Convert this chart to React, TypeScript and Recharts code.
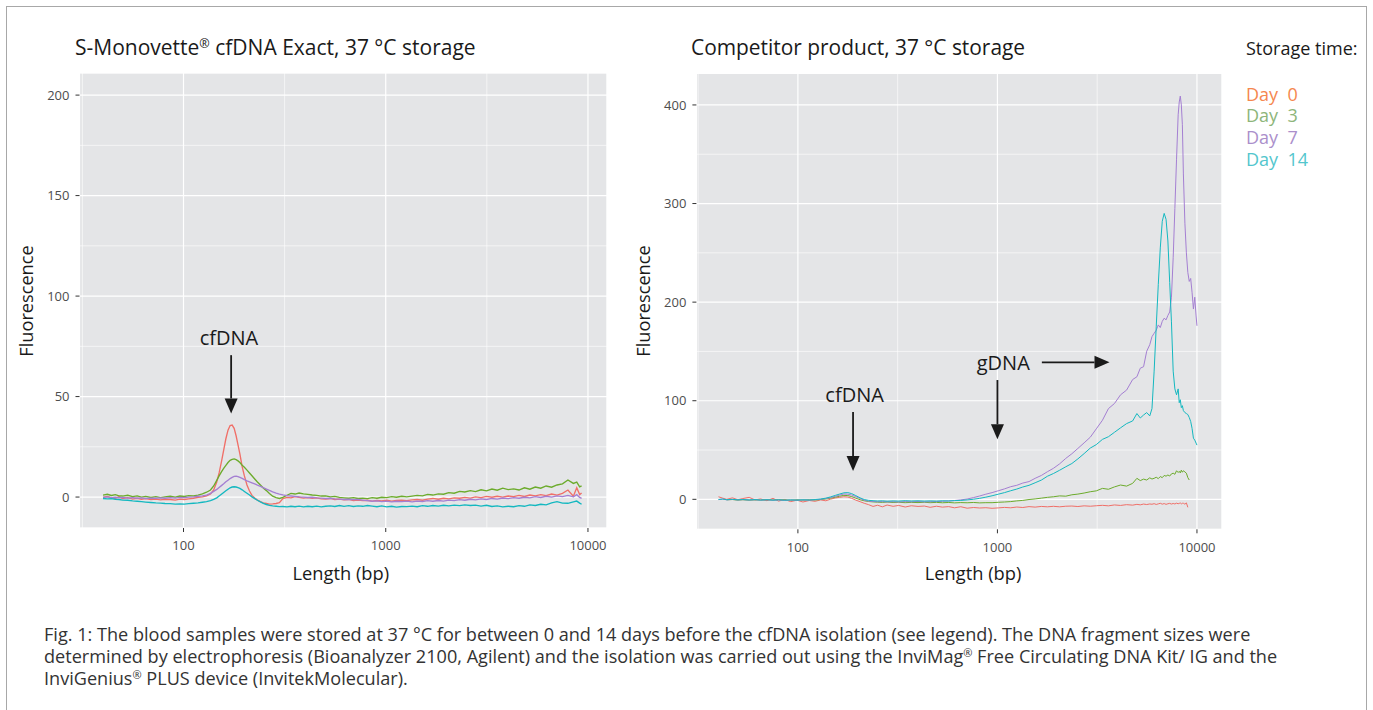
import React from "react";
import { LineChart, Line, XAxis, YAxis, CartesianGrid, ReferenceLine } from "recharts";

// ---- left panel: S-Monovette, fragment length (bp) and fluorescence per storage day
const leftBp = [
  40, 42, 44, 46, 48, 50, 53, 56, 59, 62,
  65, 69, 73, 77, 81, 86, 91, 96, 101, 106,
  112, 118, 124, 130, 136, 141, 146, 150, 154, 158,
  162, 166, 170, 174, 178, 182, 186, 190, 195, 200,
  206, 212, 218, 225, 232, 240, 248, 257, 266, 276,
  287, 298, 310, 325, 340, 356, 373, 392, 412, 433,
  456, 480, 505, 532, 560, 590, 622, 656, 692, 730,
  770, 812, 857, 905, 955, 1010, 1070, 1130, 1200, 1270,
  1350, 1430, 1520, 1610, 1710, 1820, 1930, 2050, 2180, 2320,
  2460, 2620, 2780, 2960, 3150, 3350, 3560, 3790, 4030, 4290,
  4560, 4850, 5160, 5490, 5840, 6210, 6610, 7030, 7480, 7960,
  8470, 8800, 9100, 9300,
];
const leftDay0 = [
  -0.2, 0.3, -0.4, -0.6, 0.1, -0.7, -0.3, -1.0, -0.6, -1.1,
  -0.8, -1.3, -1.0, -1.4, -1.1, -1.2, -1.5, -1.0, -1.2, -0.9,
  -0.6, -0.2, 0.1, 0.6, 1.5, 3.5, 7.5, 12.0, 17.5, 23.4,
  29.0, 33.3, 35.6, 35.8, 34.2, 30.5, 26.0, 21.5, 15.1, 10.5,
  6.0, 3.0, 0.8, -0.5, -1.5, -2.3, -2.9, -3.2, -3.5, -3.4,
  -3.2, -2.8, -0.8, -0.2, -0.4, 0.2, -0.1, -0.5, -0.3, -0.6,
  -0.4, -0.9, -1.0, -0.7, -1.2, -1.0, -1.4, -1.2, -1.7, -1.5,
  -1.8, -1.6, -2.0, -1.7, -1.9, -1.6, -2.0, -1.7, -1.5, -1.8,
  -1.4, -1.2, -1.6, -1.0, -0.7, -1.1, -0.6, -0.9, -0.4, -0.6,
  -0.2, -0.5, 0.1, -0.3, 0.3, -0.1, 0.4, 0.0, 0.5, 0.2,
  0.8, 0.3, 1.0, 0.6, 1.2, 0.7, 1.5, 1.0, 1.8, 3.5,
  0.4, 4.6, 1.2, 2.0,
];
const leftDay3 = [
  1.0, 1.4, 0.8, 1.2, 0.6, 0.5, 0.9, 0.2, 0.6, 0.0,
  0.3, -0.2, 0.2, -0.3, 0.1, 0.4, 0.0, 0.5, 0.3, 0.7,
  0.6, 1.0, 1.6, 2.4, 3.5, 5.5, 8.3, 10.5, 12.5, 14.3,
  15.8, 17.2, 18.3, 18.7, 19.0, 18.6, 18.0, 17.2, 15.8, 14.8,
  13.4, 12.0, 10.6, 9.0, 7.5, 6.0, 4.5, 3.2, 1.8, 0.4,
  -0.3, -0.7, -0.2, 0.9, 1.8, 1.5, 2.0, 1.6, 1.3, 1.0,
  0.8, 0.5, 0.6, 0.1, 0.3, -0.2, -0.4, -0.6, -0.3, -0.7,
  -0.5, -0.8, -0.3, -0.6, -0.1, -0.3, 0.2, -0.1, 0.4, 0.1,
  0.5, 0.8, 0.6, 1.3, 1.0, 1.6, 1.4, 2.2, 1.9, 2.8,
  2.5, 3.2, 2.7, 3.6, 3.1, 4.0, 3.4, 4.4, 3.7, 4.1,
  3.5, 4.6, 3.9, 5.0, 4.4, 5.5, 4.9, 6.0, 6.6, 8.5,
  6.8, 7.4, 5.1, 5.6,
];
const leftDay7 = [
  -0.2, 0.1, -0.3, -0.1, -0.4, -0.2, -0.5, -0.3, -0.6, -0.4,
  -0.7, -0.5, -0.6, -0.4, -0.6, -0.3, -0.5, -0.2, -0.3, 0.0,
  0.1, 0.4, 0.6, 1.0, 1.8, 2.8, 3.8, 4.8, 5.7, 6.6,
  7.6, 8.4, 9.2, 9.8, 10.3, 10.4, 10.2, 9.8, 9.3, 8.7,
  8.1, 7.6, 7.1, 6.5, 5.9, 5.3, 4.7, 4.0, 3.3, 2.6,
  2.0, 1.5, 1.1, 0.7, 0.5, 0.3, 0.1, 0.0, -0.2, -0.1,
  -0.4, -0.5, -0.7, -0.6, -0.9, -1.0, -1.2, -1.1, -1.3, -1.2,
  -1.5, -1.8, -2.1, -1.9, -2.3, -2.0, -2.4, -2.1, -2.3, -2.0,
  -2.4, -2.0, -2.2, -1.8, -2.1, -1.7, -2.0, -1.5, -1.8, -1.3,
  -1.6, -1.1, -1.4, -0.9, -1.2, -0.7, -1.0, -0.5, -0.8, -0.3,
  -0.6, -0.1, -0.4, 0.2, -0.2, 0.4, 0.0, 0.6, 0.2, 0.8,
  0.1, 1.2, -0.2, -0.7,
];
const leftDay14 = [
  -0.7, -0.9, -0.8, -1.1, -1.2, -1.5, -1.6, -1.9, -2.1, -2.3,
  -2.5, -2.7, -2.9, -3.0, -3.2, -3.3, -3.5, -3.4, -3.5, -3.3,
  -3.1, -2.9, -2.6, -2.3, -1.8, -1.2, -0.4, 0.5, 1.4, 2.3,
  3.1, 3.9, 4.6, 5.0, 5.1, 5.0, 4.7, 4.3, 3.6, 2.8,
  1.9, 1.0, 0.1, -0.8, -1.6, -2.4, -3.1, -3.7, -4.1, -4.4,
  -4.6, -4.8, -4.7, -4.9, -4.6, -4.8, -4.5, -4.9, -4.6, -4.8,
  -4.5, -4.9, -4.6, -4.4, -4.7, -4.2, -4.6, -4.3, -4.7, -4.4,
  -4.6, -4.2, -4.5, -4.8, -4.4, -4.9, -4.6, -5.0, -4.7, -4.8,
  -4.5, -4.8, -4.3, -4.6, -4.2, -4.5, -4.1, -4.4, -4.0, -4.3,
  -3.9, -4.2, -4.0, -4.5, -4.1, -4.7, -4.4, -4.9, -4.6, -4.8,
  -4.3, -4.6, -3.9, -4.2, -3.6, -3.9, -2.9, -2.3, -3.0, -3.1,
  -2.4, -2.0, -3.0, -3.6,
];

// ---- right panel: competitor product
const rightBp = [
  40, 42, 44, 47, 50, 53, 57, 61, 65, 70,
  75, 80, 86, 92, 99, 106, 114, 122, 130, 138,
  146, 154, 162, 170, 178, 186, 195, 205, 215, 226,
  238, 251, 265, 280, 300, 320, 345, 370, 400, 430,
  460, 495, 530, 570, 610, 655, 705, 760, 815, 875,
  940, 1010, 1085, 1165, 1250, 1340, 1440, 1545, 1660, 1780,
  1910, 2050, 2200, 2360, 2530, 2720, 2920, 3130, 3360, 3600,
  3860, 4140, 4440, 4760, 5000, 5200, 5400, 5600, 5800, 5950,
  6100, 6250, 6400, 6550, 6700, 6850, 7000, 7150, 7300, 7450,
  7600, 7750, 7900, 8050, 8150, 8250, 8350, 8450, 8550, 8700,
  8850, 9000, 9150, 9300, 9450, 9600, 9750, 9900, 10000,
];
const rightDay0 = [
  2.6, 1.2, 0.0, 1.5, -0.4, 0.8, 2.0, -0.6, 0.4, -1.4,
  1.0, -1.8, -0.2, -2.3, -0.9, -2.7, -1.2, -2.0, -0.6, -1.5,
  0.2, 1.4, 2.0, 2.6, 2.3, 1.0, -0.8, -2.4, -4.0, -5.4,
  -7.2, -6.0, -7.6, -5.8, -7.1, -6.2, -7.8, -6.5, -7.2, -6.8,
  -8.1, -7.0, -7.9, -7.4, -8.6, -7.5, -9.0, -8.3, -8.8, -8.5,
  -9.1, -8.7, -8.2, -8.6, -7.8, -8.3, -7.4, -7.9, -7.2, -7.6,
  -7.1, -7.6, -7.0, -6.8, -7.3, -6.6, -7.0, -6.5, -6.1, -6.6,
  -5.7, -6.2, -5.4, -5.9, -5.1, -5.6, -4.8, -5.3, -4.7, -5.0,
  -4.4, -5.2, -4.6, -4.0, -4.9, -4.3, -5.1, -4.5, -4.1, -4.8,
  -4.2, -4.7, -3.9, -4.5, -4.1, -3.7, -4.6, -4.0, -4.0, -4.9,
  -3.6, -8.1, null, null, null, null, null, null, null,
];
const rightDay3 = [
  null, null, -0.5, -0.2, -0.8, -0.4, -0.9, -0.5, -0.8, -0.4,
  -0.7, -0.3, -0.6, -0.9, -0.5, -0.8, -0.4, -0.7, -0.2, 0.3,
  1.2, 2.2, 3.2, 4.0, 3.8, 2.8, 1.2, -0.4, -1.5, -2.2,
  -2.6, -2.9, -3.1, -2.8, -3.2, -3.0, -3.4, -3.1, -3.3, -3.0,
  -3.4, -3.1, -3.5, -3.2, -3.6, -3.3, -3.5, -3.2, -3.6, -3.4,
  -3.4, -3.0, -2.7, -2.3, -1.6, -1.1, -0.2, 0.4, 1.2, 2.0,
  2.6, 3.5, 3.2, 4.6, 5.3, 6.4, 7.7, 8.6, 11.1, 10.2,
  12.6, 14.5, 13.4, 16.2, 21.3, 19.0, 20.5, 19.6, 21.8, 20.6,
  21.3, 22.4, 21.0, 23.1, 22.0, 24.2, 23.5, 24.7, 23.6, 25.8,
  26.5, 25.4, 29.0, 27.2, 28.4, 26.8, 29.6, 27.5, 29.0, 27.8,
  26.5, 22.0, 19.6, null, null, null, null, null, null,
];
const rightDay7 = [
  -0.3, 0.2, -0.5, -0.1, -0.6, -0.3, -0.7, -0.4, -0.8, -0.5,
  -0.9, -0.6, -1.0, -0.7, -0.9, -0.6, -0.8, -0.4, 0.0, 0.8,
  1.8, 3.0, 4.3, 5.4, 5.2, 4.4, 2.8, 0.8, -0.9, -1.8,
  -2.2, -2.5, -2.3, -2.6, -2.4, -2.7, -2.3, -2.5, -2.2, -2.6,
  -2.4, -2.3, -2.0, -1.6, -1.2, -0.6, 0.3, 1.8, 3.4, 5.2,
  6.8, 8.7, 10.6, 12.8, 14.2, 16.5, 18.0, 21.3, 24.2, 28.0,
  31.5, 36.0, 41.5, 46.2, 51.6, 57.3, 63.0, 71.5, 80.2, 92.0,
  97.2, 106.0, 110.8, 121.5, 124.3, 133.0, 134.5, 150.2, 156.8, 165.0,
  168.4, 171.5, 176.9, 174.2, 180.5, 183.7, 182.0, 186.5, 190.0, 205.0,
  245.0, 295.0, 345.0, 390.0, 403.0, 409.0, 400.0, 380.0, 330.0, 280.0,
  250.0, 230.0, 221.0, 224.0, 210.0, 193.0, 205.0, 186.0, 176.0,
];
const rightDay14 = [
  -0.2, 0.3, -0.4, 0.0, -0.5, -0.2, -0.6, -0.3, -0.7, -0.4,
  -0.8, -0.5, -0.9, -0.6, -0.8, -0.5, -0.7, -0.2, 0.3, 1.2,
  2.5, 4.0, 5.4, 6.6, 6.8, 5.8, 3.8, 1.5, -0.2, -1.0,
  -1.4, -1.7, -1.5, -1.9, -1.6, -1.8, -1.4, -1.7, -1.5, -1.8,
  -1.6, -1.8, -1.5, -1.7, -1.3, -1.1, -0.6, 0.1, 1.0, 2.2,
  3.6, 5.2, 6.8, 8.7, 10.4, 12.5, 14.2, 16.8, 19.5, 23.4,
  26.2, 29.5, 33.0, 36.3, 41.0, 46.4, 52.0, 55.5, 60.8, 63.5,
  68.0, 72.5, 76.8, 79.5, 87.0, 82.5, 85.5, 88.0, 84.6, 92.0,
  130.0, 175.0, 218.0, 255.0, 282.0, 290.0, 284.0, 262.0, 220.0, 180.0,
  130.0, 112.0, 106.0, 112.0, 98.0, 101.0, 93.0, 95.0, 90.0, 88.0,
  87.0, 86.0, 83.0, 79.0, 72.0, 62.0, 60.0, 57.0, 55.0,
];

const majorX = [100, 1000, 10000];
const minorX = [31.62, 316.2, 3162];
const leftYTicks = [0, 50, 100, 150, 200];
const leftYMinor = [25, 75, 125, 175];
const rightYTicks = [0, 100, 200, 300, 400];
const rightYMinor = [50, 150, 250, 350];

const legendTitle = "Storage time:";
// labels are padded like the original ("Day  0"), nbsp keeps the double gap
const series = [
  { key: "d0", label: "Day\u00a0 0", line: "#f06f68", text: "#f5874f" },
  { key: "d3", label: "Day\u00a0 3", line: "#6cab2c", text: "#8db57a" },
  { key: "d7", label: "Day\u00a0 7", line: "#a47fd2", text: "#ab8fcb" },
  { key: "d14", label: "Day\u00a0 14", line: "#14b8c0", text: "#53c6cd" },
];

const leftRows = leftBp.map((bp, i) => ({
  bp, d0: leftDay0[i], d3: leftDay3[i], d7: leftDay7[i], d14: leftDay14[i],
}));
const rightRows = rightBp.map((bp, i) => ({
  bp, d0: rightDay0[i], d3: rightDay3[i], d7: rightDay7[i], d14: rightDay14[i],
}));

// annotation arrows in data units
const leftArrows = [{ from: { x: 172, y: 70.6 }, to: { x: 172, y: 41.6 } }];
const rightArrows = [
  { from: { x: 189, y: 88.6 }, to: { x: 189, y: 28.7 } },
  { from: { x: 1000, y: 121 }, to: { x: 1000, y: 60.9 } },
  { from: { x: 1670, y: 139 }, to: { x: 3645, y: 139 } },
];

const OPEN = "'Open Sans', sans-serif";
const PANEL_BG = "#e4e5e7";

function Arrow(props: any) {
  const { x1, y1, x2, y2 } = props;
  const dx = x2 - x1;
  const dy = y2 - y1;
  const len = Math.hypot(dx, dy) || 1;
  const ux = dx / len;
  const uy = dy / len;
  const head = 15;
  const half = 6.5;
  const bx = x2 - ux * head;
  const by = y2 - uy * head;
  return (
    <g>
      <line x1={x1} y1={y1} x2={bx} y2={by} stroke="#1a1a1a" strokeWidth={1.8} />
      <polygon
        points={`${x2},${y2} ${bx - uy * half},${by + ux * half} ${bx + uy * half},${by - ux * half}`}
        fill="#1a1a1a"
      />
    </g>
  );
}

interface PanelProps {
  rows: any[];
  left: number;
  width: number;
  margin: { top: number; right: number; bottom: number; left: number };
  xDomain: [number, number];
  yDomain: [number, number];
  yTicks: number[];
  yMinor: number[];
  arrows: { from: { x: number; y: number }; to: { x: number; y: number } }[];
  lineWidth: number;
}

function Panel({ rows, left, width, margin, xDomain, yDomain, yTicks, yMinor, arrows, lineWidth }: PanelProps) {
  const tick = { fontSize: 13, fill: "#4d4d4d", fontFamily: OPEN };
  return (
    <div style={{ position: "absolute", left, top: 0 }}>
      <LineChart width={width} height={600} data={rows} margin={margin}>
        <XAxis xAxisId="minor" type="number" dataKey="bp" scale="log" domain={xDomain} ticks={minorX} allowDataOverflow hide />
        <YAxis yAxisId="minor" type="number" domain={yDomain} ticks={yMinor} allowDataOverflow hide />
        <CartesianGrid xAxisId="minor" yAxisId="minor" fill={PANEL_BG} fillOpacity={1} stroke="#ffffff" strokeWidth={0.6} />
        <CartesianGrid stroke="#ffffff" strokeWidth={1.2} />
        <XAxis
          type="number"
          dataKey="bp"
          scale="log"
          domain={xDomain}
          ticks={majorX}
          interval={0}
          allowDataOverflow
          height={30}
          axisLine={false}
          tickLine={{ stroke: "#333333" }}
          tickSize={4}
          tickMargin={9}
          tick={tick}
          tickFormatter={(v) => String(v)}
        />
        <YAxis
          type="number"
          domain={yDomain}
          ticks={yTicks}
          interval={0}
          allowDataOverflow
          width={40}
          axisLine={false}
          tickLine={{ stroke: "#333333" }}
          tickSize={4}
          tickMargin={6}
          tick={tick}
        />
        {series.map((s) => (
          <Line
            key={s.key}
            type="linear"
            dataKey={s.key}
            stroke={s.line}
            strokeWidth={lineWidth}
            dot={false}
            activeDot={false}
            isAnimationActive={false}
          />
        ))}
        {arrows.map((a, i) => (
          <ReferenceLine key={i} segment={[a.from, a.to]} shape={Arrow} ifOverflow="visible" />
        ))}
      </LineChart>
    </div>
  );
}

export default function App() {
  return (
    <div style={{ position: "absolute", left: 0, top: 0, width: 1373, height: 710, overflow: "hidden", background: "#ffffff" }}>
      <div style={{ position: "absolute", left: 6, top: 6, width: 1359, height: 730, border: "1px solid #a8a8a8" }} />
      <Panel
        rows={leftRows}
        left={0}
        width={640}
        margin={{ top: 73, right: 33, bottom: 42, left: 39.5 }}
        xDomain={[30.6, 12420]}
        yDomain={[-15.4, 211]}
        yTicks={leftYTicks}
        yMinor={leftYMinor}
        arrows={leftArrows}
        lineWidth={1.35}
      />
      <Panel
        rows={rightRows}
        left={640}
        width={600}
        margin={{ top: 73.3, right: 18, bottom: 40.7, left: 16.4 }}
        xDomain={[31.0, 13350]}
        yDomain={[-30.4, 432.1]}
        yTicks={rightYTicks}
        yMinor={rightYMinor}
        arrows={rightArrows}
        lineWidth={1.0}
      />
      <svg width={1373} height={710} style={{ position: "absolute", left: 0, top: 0, pointerEvents: "none" }}>
        <g fontFamily={OPEN} fill="#1a1a1a">
          <text x={75} y={55} fontSize={21}>
            S-Monovette<tspan fontSize={12.5} dy={-7.5}>®</tspan>
            <tspan dy={7.5}> cfDNA Exact, 37 °C storage</tspan>
          </text>
          <text x={691} y={55} fontSize={20.9}>Competitor product, 37 °C storage</text>

          <text x={340.8} y={579.5} fontSize={18.3} textAnchor="middle">Length (bp)</text>
          <text x={973.1} y={579.5} fontSize={18.3} textAnchor="middle">Length (bp)</text>
          <text transform="translate(33,301) rotate(-90)" fontSize={18.2} textAnchor="middle">Fluorescence</text>
          <text transform="translate(649.5,301) rotate(-90)" fontSize={18.2} textAnchor="middle">Fluorescence</text>

          <text x={229} y={345} fontSize={20} textAnchor="middle">cfDNA</text>
          <text x={854.6} y={402} fontSize={20} textAnchor="middle">cfDNA</text>
          <text x={1003.3} y={370} fontSize={20} textAnchor="middle">gDNA</text>

          <text x={1246} y={55} fontSize={18}>{legendTitle}</text>
          {series.map((s, i) => (
            <text key={s.key} x={1246} y={100.5 + 21.8 * i} fontSize={18} fill={s.text}>
              {s.label}
            </text>
          ))}
        </g>
        <g fontFamily={OPEN} fill="#333333" fontSize={18.1}>
          <text x={44} y={641}>
            Fig. 1: The blood samples were stored at 37 °C for between 0 and 14 days before the cfDNA isolation (see legend). The DNA fragment sizes were
          </text>
          <text x={44} y={663}>
            determined by electrophoresis (Bioanalyzer 2100, Agilent) and the isolation was carried out using the InviMag
            <tspan fontSize={11} dy={-6.5}>®</tspan>
            <tspan dy={6.5}> Free Circulating DNA Kit/ IG and the</tspan>
          </text>
          <text x={44} y={685}>
            InviGenius<tspan fontSize={11} dy={-6.5}>®</tspan>
            <tspan dy={6.5}> PLUS device (InvitekMolecular).</tspan>
          </text>
        </g>
      </svg>
    </div>
  );
}
